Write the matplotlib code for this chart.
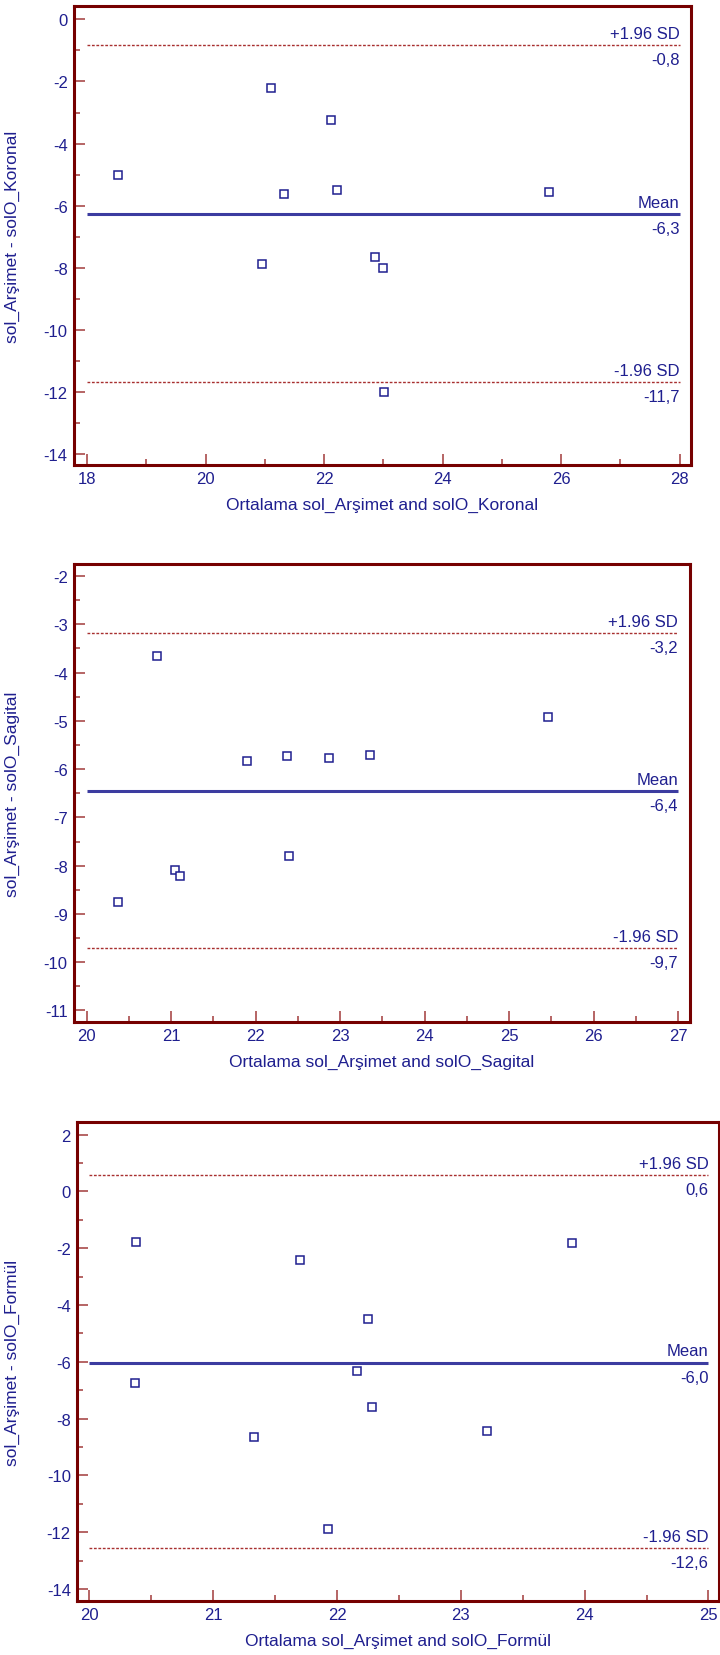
import numpy as np
import matplotlib
matplotlib.use("Agg")
from matplotlib import pyplot as plt
from matplotlib.ticker import MultipleLocator

plt.rcParams['font.family'] = ['Liberation Sans', 'DejaVu Sans']
plt.rcParams['axes.unicode_minus'] = False

NAVY = '#1f1f8f'
FRAME = '#760000'
TICK = '#b05858'
MEAN_C = '#3c3ca0'
LIM_C = '#a83030'

# panel 1: Koronal
x_kor = [18.53, 21.10, 22.12, 21.33, 22.22, 25.79, 20.96, 22.86, 22.99, 23.01]
d_kor = [-5.01, -2.22, -3.24, -5.62, -5.48, -5.56, -7.89, -7.66, -8.01, -12.0]
# panel 2: Sagital
x_sag = [20.83, 25.46, 21.90, 22.37, 22.87, 23.35, 22.39, 21.04, 21.10, 20.37]
d_sag = [-3.66, -4.93, -5.83, -5.73, -5.76, -5.71, -7.81, -8.10, -8.22, -8.75]
# panel 3: Formül
x_for = [20.38, 23.90, 21.70, 22.25, 22.16, 20.37, 22.28, 21.33, 23.21, 21.93]
d_for = [-1.77, -1.81, -2.43, -4.49, -6.34, -6.73, -7.58, -8.66, -8.45, -11.87]

# mean, +1.96 SD, -1.96 SD as reported
mean_vals = [-6.28, -6.45, -6.03]
upper_vals = [-0.82, -3.19, 0.56]
lower_vals = [-11.69, -9.71, -12.57]
mean_txt = ['-6,3', '-6,4', '-6,0']
upper_txt = ['-0,8', '-3,2', '0,6']
lower_txt = ['-11,7', '-9,7', '-12,6']

ylabels = ['sol_Arşimet - solO_Koronal', 'sol_Arşimet - solO_Sagital',
           'sol_Arşimet - solO_Formül']
xlabels = ['Ortalama sol_Arşimet and solO_Koronal',
           'Ortalama sol_Arşimet and solO_Sagital',
           'Ortalama sol_Arşimet and solO_Formül']

xlims = [(17.78, 28.19), (19.85, 27.14), (19.90, 25.085)]
ylims = [(-14.35, 0.43), (-11.24, -1.75), (-14.42, 2.44)]
xspan = [(18, 28), (20, 27), (20, 25)]
xmaj = [2, 1, 1]
xmin = [1, 0.5, 0.5]
ymaj = [2, 1, 2]
ymin = [1, 0.5, 1]

# axes rectangles in pixels: left, top, right, bottom
W, H = 720, 1656
boxes = [(74, 7, 691, 466), (74, 565, 690, 1023), (77, 1123, 719, 1602)]

fig = plt.figure(figsize=(7.2, 16.56), dpi=100)

data = [(x_kor, d_kor), (x_sag, d_sag), (x_for, d_for)]
for i in range(3):
    l, t, r, b = boxes[i]
    ax = fig.add_axes([l / W, 1 - b / H, (r - l) / W, (b - t) / H])
    xs, ds = data[i]
    x0, x1 = xspan[i]

    ax.plot([x0, x1], [mean_vals[i]] * 2, color=MEAN_C, lw=2.2, solid_capstyle='butt')
    ax.plot([x0, x1], [upper_vals[i]] * 2, color=LIM_C, lw=1.0, ls=(0, (2, 1.2)))
    ax.plot([x0, x1], [lower_vals[i]] * 2, color=LIM_C, lw=1.0, ls=(0, (2, 1.2)))
    ax.plot(xs, ds, ls='none', marker='s', ms=6, mfc='white', mec=NAVY, mew=1.1)

    for y, top, bot in [(upper_vals[i], '+1.96 SD', upper_txt[i]),
                        (mean_vals[i], 'Mean', mean_txt[i]),
                        (lower_vals[i], '-1.96 SD', lower_txt[i])]:
        ax.annotate(top, (x1, y), xytext=(0, 3), textcoords='offset points',
                    ha='right', va='bottom', color=NAVY, fontsize=12)
        ax.annotate(bot, (x1, y), xytext=(0, -5), textcoords='offset points',
                    ha='right', va='top', color=NAVY, fontsize=12)

    ax.set_xlim(*xlims[i])
    ax.set_ylim(*ylims[i])
    ax.xaxis.set_major_locator(MultipleLocator(xmaj[i]))
    ax.xaxis.set_minor_locator(MultipleLocator(xmin[i]))
    ax.yaxis.set_major_locator(MultipleLocator(ymaj[i]))
    ax.yaxis.set_minor_locator(MultipleLocator(ymin[i]))
    ax.tick_params(which='both', direction='in', color=TICK, width=1.3,
                   top=False, right=False, labelcolor=NAVY, labelsize=12, pad=4.5)
    ax.tick_params(which='major', length=8)
    ax.tick_params(which='minor', length=4.5)
    for s in ax.spines.values():
        s.set_color(FRAME)
        s.set_linewidth(2.2)

    ax.set_ylabel(ylabels[i], color=NAVY, fontsize=12.5)
    ax.yaxis.set_label_coords(-(l - 20) / (r - l), 0.5)
    ax.set_xlabel(xlabels[i], color=NAVY, fontsize=12.5)
    ax.xaxis.set_label_coords(0.5, -39 / (b - t))
    ax.xaxis.label.set_va('center')

fig.savefig('out.png', dpi=100)
